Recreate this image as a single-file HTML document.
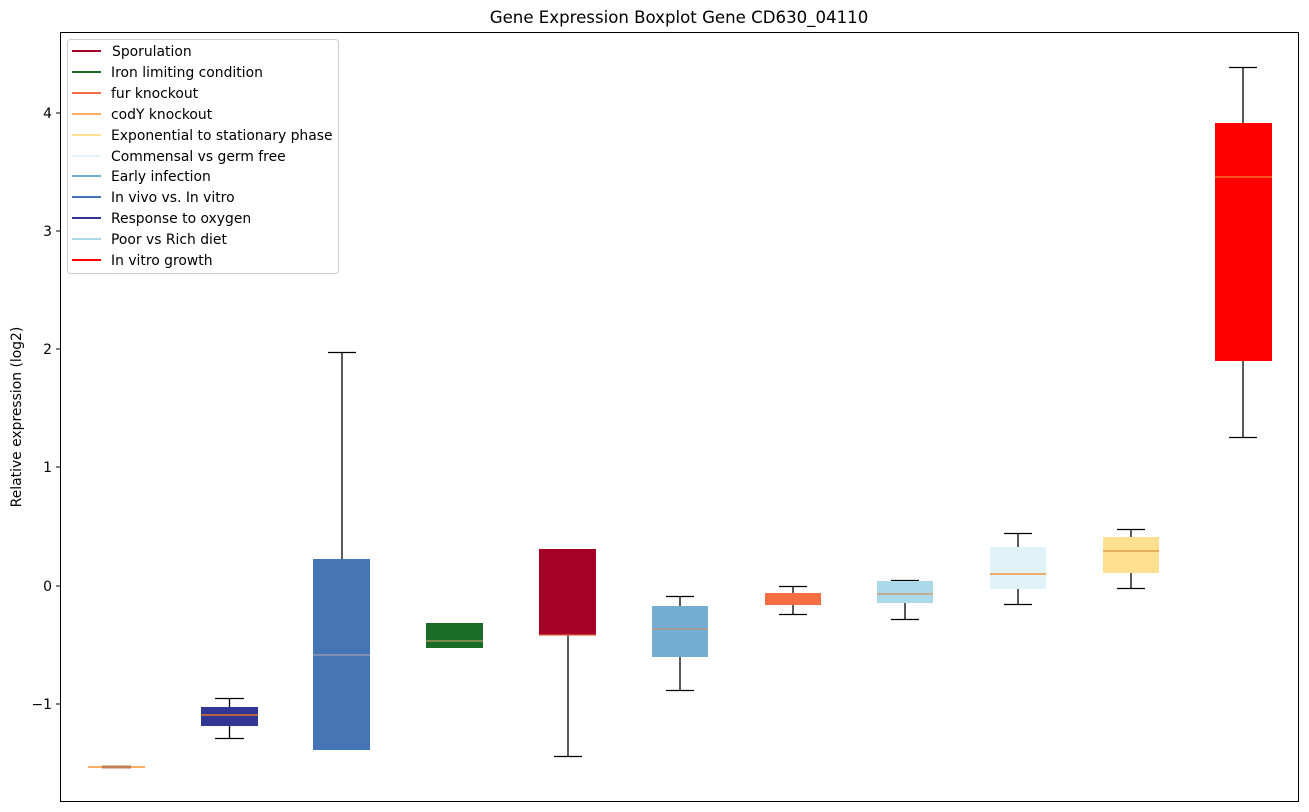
<!DOCTYPE html>
<html><head><meta charset="utf-8"><style>body{margin:0;background:#fff}svg{display:block;font-family:"DejaVu Sans","Liberation Sans",sans-serif}</style></head><body>
<svg width="1309" height="812" viewBox="0 0 1309 812">
<rect width="1309" height="812" fill="#fff"/>
<text x="679" y="23" font-size="16.6" text-anchor="middle">Gene Expression Boxplot Gene CD630_04110</text>
<g stroke="#000" stroke-width="1.3">
<line x1="88" y1="767" x2="145" y2="767" stroke="#fdae61" stroke-width="2"/>
<line x1="102" y1="767" x2="131" y2="767" stroke="#c08050" stroke-width="3"/>
<line x1="229.5" y1="698" x2="229.5" y2="707"/><line x1="229.5" y1="726" x2="229.5" y2="738"/>
<line x1="215" y1="698.5" x2="244" y2="698.5"/><line x1="215" y1="738.5" x2="244" y2="738.5"/>
<rect x="201" y="707" width="57" height="19" fill="#313695" stroke="none"/>
<line x1="201" y1="715" x2="258" y2="715" stroke="#ff7f0e"/>
<line x1="342" y1="352" x2="342" y2="559"/><line x1="328" y1="352.5" x2="356" y2="352.5"/>
<rect x="313" y="559" width="57" height="191" fill="#4575b4" stroke="none"/>
<line x1="313" y1="655" x2="370" y2="655" stroke="#a0a0b0"/>
<rect x="426" y="623" width="57" height="25" fill="#1b6b28" stroke="none"/>
<line x1="426" y1="641" x2="483" y2="641" stroke="#b0a060"/>
<line x1="568" y1="635" x2="568" y2="756"/><line x1="554" y1="756.5" x2="582" y2="756.5"/>
<rect x="539" y="549" width="57" height="86" fill="#a50026" stroke="none"/>
<line x1="539" y1="635" x2="596" y2="635" stroke="#e06040"/>
<line x1="680" y1="596" x2="680" y2="606"/><line x1="680" y1="657" x2="680" y2="690"/>
<line x1="666" y1="596.5" x2="694" y2="596.5"/><line x1="666" y1="690.5" x2="694" y2="690.5"/>
<rect x="652" y="606" width="56" height="51" fill="#74add1" stroke="none"/>
<line x1="652" y1="629" x2="708" y2="629" stroke="#c09070"/>
<line x1="793" y1="586" x2="793" y2="593"/><line x1="793" y1="605" x2="793" y2="614"/>
<line x1="779" y1="586.5" x2="807" y2="586.5"/><line x1="779" y1="614.5" x2="807" y2="614.5"/>
<rect x="765" y="593" width="56" height="12" fill="#f46d43" stroke="none"/>
<line x1="905" y1="603" x2="905" y2="619"/>
<line x1="891" y1="580.5" x2="919" y2="580.5"/><line x1="891" y1="619.5" x2="919" y2="619.5"/>
<rect x="877" y="581" width="56" height="22" fill="#abd9e9" stroke="none"/>
<line x1="877" y1="594" x2="933" y2="594" stroke="#d09060"/>
<line x1="1018" y1="533" x2="1018" y2="547"/><line x1="1018" y1="589" x2="1018" y2="604"/>
<line x1="1004" y1="533.5" x2="1032" y2="533.5"/><line x1="1004" y1="604.5" x2="1032" y2="604.5"/>
<rect x="990" y="547" width="56" height="42" fill="#e0f3f8" stroke="none"/>
<line x1="990" y1="574" x2="1046" y2="574" stroke="#ff7f0e"/>
<line x1="1131" y1="529" x2="1131" y2="537"/><line x1="1131" y1="573" x2="1131" y2="588"/>
<line x1="1117" y1="529.5" x2="1145" y2="529.5"/><line x1="1117" y1="588.5" x2="1145" y2="588.5"/>
<rect x="1103" y="537" width="56" height="36" fill="#fee090" stroke="none"/>
<line x1="1103" y1="551" x2="1159" y2="551" stroke="#e09040"/>
<line x1="1243" y1="67" x2="1243" y2="123"/><line x1="1243" y1="361" x2="1243" y2="437"/>
<line x1="1229" y1="67.5" x2="1257" y2="67.5"/><line x1="1229" y1="437.5" x2="1257" y2="437.5"/>
<rect x="1215" y="123" width="57" height="238" fill="#ff0000" stroke="none"/>
<line x1="1215" y1="177" x2="1272" y2="177" stroke="#ff8030"/>
</g>
<rect x="60.5" y="32.5" width="1238" height="769" fill="none" stroke="#000"/>
<g font-size="13.9" text-anchor="end">
<line x1="56" y1="113" x2="60" y2="113" stroke="#000"/><text x="52" y="118">4</text>
<line x1="56" y1="231" x2="60" y2="231" stroke="#000"/><text x="52" y="236">3</text>
<line x1="56" y1="349" x2="60" y2="349" stroke="#000"/><text x="52" y="354">2</text>
<line x1="56" y1="467" x2="60" y2="467" stroke="#000"/><text x="52" y="472">1</text>
<line x1="56" y1="586" x2="60" y2="586" stroke="#000"/><text x="52" y="591">0</text>
<line x1="56" y1="704" x2="60" y2="704" stroke="#000"/><text x="52" y="709">−1</text>
</g>
<text transform="translate(21,417) rotate(-90)" font-size="13.9" text-anchor="middle">Relative expression (log2)</text>
<rect x="67.5" y="39.5" width="271" height="234" rx="3" fill="#fff" stroke="#ccc"/>
<g font-size="13.9" stroke-width="2">
<line x1="72" y1="51" x2="101" y2="51" stroke="#a50026"/><text x="112" y="56">Sporulation</text>
<line x1="72" y1="72" x2="101" y2="72" stroke="#1b6b28"/><text x="111" y="77">Iron limiting condition</text>
<line x1="72" y1="93" x2="101" y2="93" stroke="#f46d43"/><text x="111" y="98">fur knockout</text>
<line x1="72" y1="114" x2="101" y2="114" stroke="#fdae61"/><text x="111" y="119">codY knockout</text>
<line x1="72" y1="135" x2="101" y2="135" stroke="#fee090"/><text x="111" y="140">Exponential to stationary phase</text>
<line x1="72" y1="156" x2="101" y2="156" stroke="#e0f3f8"/><text x="111" y="161">Commensal vs germ free</text>
<line x1="72" y1="176" x2="101" y2="176" stroke="#74add1"/><text x="111" y="181">Early infection</text>
<line x1="72" y1="197" x2="101" y2="197" stroke="#4575b4"/><text x="111" y="202">In vivo vs. In vitro</text>
<line x1="72" y1="218" x2="101" y2="218" stroke="#313695"/><text x="111" y="223">Response to oxygen</text>
<line x1="72" y1="239" x2="101" y2="239" stroke="#abd9e9"/><text x="111" y="244">Poor vs Rich diet</text>
<line x1="72" y1="260" x2="101" y2="260" stroke="#ff0000"/><text x="111" y="265">In vitro growth</text>
</g>
</svg>
</body></html>
